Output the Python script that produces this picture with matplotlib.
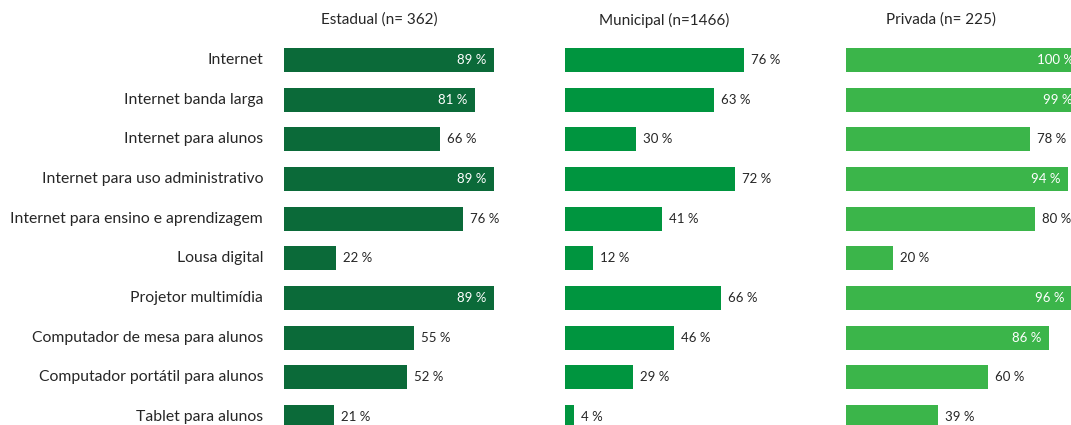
import matplotlib
matplotlib.use("Agg")
import matplotlib.pyplot as plt

plt.rcParams['font.family'] = ['Lato', 'DejaVu Sans']

categories = [
    "Internet",
    "Internet banda larga",
    "Internet para alunos",
    "Internet para uso administrativo",
    "Internet para ensino e aprendizagem",
    "Lousa digital",
    "Projetor multimídia",
    "Computador de mesa para alunos",
    "Computador portátil para alunos",
    "Tablet para alunos",
]
titles = ["Estadual (n= 362)", "Municipal (n=1466)", "Privada (n= 225)"]
estadual = [89, 81, 66, 89, 76, 22, 89, 55, 52, 21]
municipal = [76, 63, 30, 72, 41, 12, 66, 46, 29, 4]
privada = [100, 99, 78, 94, 80, 20, 96, 86, 60, 39]
colors = ["#0b6a39", "#00953f", "#3bb54a"]

W, H = 1071, 425
fig = plt.figure(figsize=(W / 100, H / 100), dpi=100)

row_px = 39.67
top_px = 60 - row_px * 0.5
height_px = row_px * 10
panel_x = [284, 565, 846]
panel_w = 236
title_x = [379, 664, 941]

text_color = "#262626"
series = [estadual, municipal, privada]
ypos = list(range(len(categories)))

for i, (vals, col) in enumerate(zip(series, colors)):
    ax = fig.add_axes([panel_x[i] / W, 1 - (top_px + height_px) / H,
                       panel_w / W, height_px / H])
    ax.barh(ypos, vals, height=0.6, color=col)
    ax.set_xlim(0, 100)
    ax.set_ylim(len(categories) - 0.5, -0.5)
    ax.axis("off")
    for y, v in zip(ypos, vals):
        if v > 80:
            ax.annotate(f"{v} %", (v, y), xytext=(-5.5, 0), textcoords="offset points",
                        ha="right", va="center", color="white", fontsize=9.5)
        else:
            ax.annotate(f"{v} %", (v, y), xytext=(5, 0), textcoords="offset points",
                        ha="left", va="center", color=text_color, fontsize=9.5)
    fig.text(title_x[i] / W, 1 - 20 / H, titles[i], ha="center", va="center",
             fontsize=11, color=text_color)
    if i == 0:
        for y, c in zip(ypos, categories):
            ax.annotate(c, (0, y), xytext=(-15, 0), textcoords="offset points",
                        ha="right", va="center", color=text_color, fontsize=11.3,
                        annotation_clip=False)

fig.savefig("out.png", dpi=100)
